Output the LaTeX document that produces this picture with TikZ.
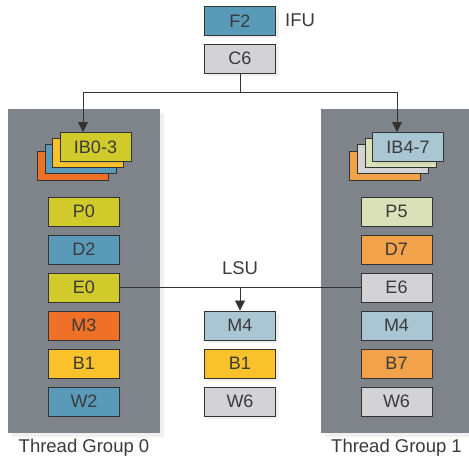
\documentclass[tikz,border=0pt]{standalone}
\usepackage{fontspec}
\setmainfont{Liberation Sans}
\usetikzlibrary{arrows.meta,shadows,calc}
\definecolor{panelgray}{HTML}{7F838A}
\definecolor{cblue}{HTML}{5A9AB9}
\definecolor{clgray}{HTML}{D3D3D5}
\definecolor{cyel}{HTML}{D0CB2B}
\definecolor{corange}{HTML}{EE7127}
\definecolor{cgold}{HTML}{F9C22B}
\definecolor{clblue}{HTML}{AAC6D3}
\definecolor{clgreen}{HTML}{DAE0B7}
\definecolor{clorange}{HTML}{F2A24B}
\definecolor{ink}{HTML}{333333}
\definecolor{txt}{HTML}{3A3A3A}
\tikzset{
  stagebox/.style={draw=ink, line width=0.9pt, minimum width=71pt, minimum height=29pt,
    inner sep=0pt, text=txt, font=\fontsize{18}{18}\selectfont,
    drop shadow={opacity=0.12, shadow xshift=3pt, shadow yshift=-3pt}},
  backbox/.style={draw=ink, line width=0.9pt, minimum width=71pt, minimum height=29pt, inner sep=0pt},
  panel/.style={fill=panelgray, draw=none, drop shadow={opacity=0.12, shadow xshift=4pt, shadow yshift=-4pt}},
  lbl/.style={text=txt, font=\fontsize{18.5}{18.5}\selectfont, inner sep=0pt},
  conn/.style={draw=ink, line width=0.9pt},
  arr/.style={conn, -{Triangle[width=10pt,length=10pt]}}
}
\begin{document}
\begin{tikzpicture}[x=1pt,y=-1pt]
\useasboundingbox (0,0) rectangle (469,462);
% panels
\fill[panel] (8,109) rectangle (160,433);
\fill[panel] (321,109) rectangle (469,433);
% top
\node[stagebox, fill=cblue] (f2) at (240,21) {F2};
\node[lbl, anchor=west] (ifu) at (285,20) {IFU};
\node[stagebox, fill=clgray] (c6) at (240,58.5) {C6};
% left stack
\node[backbox, fill=corange] (l3) at (72.5,165.5) {};
\node[backbox, fill=cblue] (l2) at (80.5,159) {};
\node[backbox, fill=cgold] (l1) at (88,153) {};
\node[stagebox, fill=cyel, drop shadow={opacity=0}] (ib0) at (95.5,147) {IB0-3};
% right stack
\node[backbox, fill=clorange] (r3) at (385,165.5) {};
\node[backbox, fill=clgray] (r2) at (393,159) {};
\node[backbox, fill=clgreen] (r1) at (401,153) {};
\node[stagebox, fill=clblue, drop shadow={opacity=0}] (ib4) at (408,147) {IB4-7};
% left column
\node[stagebox, fill=cyel] (p0) at (84,211.5) {P0};
\node[stagebox, fill=cblue] (d2) at (84,249.5) {D2};
\node[stagebox, fill=cyel] (e0) at (84,287.5) {E0};
\node[stagebox, fill=corange] (m3) at (84,325.5) {M3};
\node[stagebox, fill=cgold] (b1l) at (84,363.5) {B1};
\node[stagebox, fill=cblue] (w2) at (84,401.5) {W2};
% right column
\node[stagebox, fill=clgreen] (p5) at (396.5,211.5) {P5};
\node[stagebox, fill=clorange] (d7) at (396.5,249.5) {D7};
\node[stagebox, fill=clgray] (e6) at (396.5,287.5) {E6};
\node[stagebox, fill=clblue] (m4r) at (396.5,325.5) {M4};
\node[stagebox, fill=clorange] (b7) at (396.5,363.5) {B7};
\node[stagebox, fill=clgray] (w6r) at (396.5,401.5) {W6};
% middle column
\node[stagebox, fill=clblue] (m4) at (240,325.5) {M4};
\node[stagebox, fill=cgold] (b1m) at (240,363.5) {B1};
\node[stagebox, fill=clgray] (w6m) at (240,401.5) {W6};
\node[lbl] (lsu) at (240,268) {LSU};
% labels
\node[lbl] (tg0) at (84,448) {Thread Group 0};
\node[lbl] (tg1) at (396.5,448) {Thread Group 1};
% connectors
\coordinate (jn) at (240,92);
\coordinate (la) at (83,92);
\coordinate (ra) at (397,92);
\draw[conn] (c6.south) -- (jn);
\draw[arr] (jn) -- (la) -- (la |- ib0.north);
\draw[arr] (jn) -- (ra) -- (ra |- ib4.north);
\draw[conn] (e0.east) -- (e6.west);
\draw[arr] (e0.east -| m4.north) -- (m4.north);
\end{tikzpicture}
\end{document}
